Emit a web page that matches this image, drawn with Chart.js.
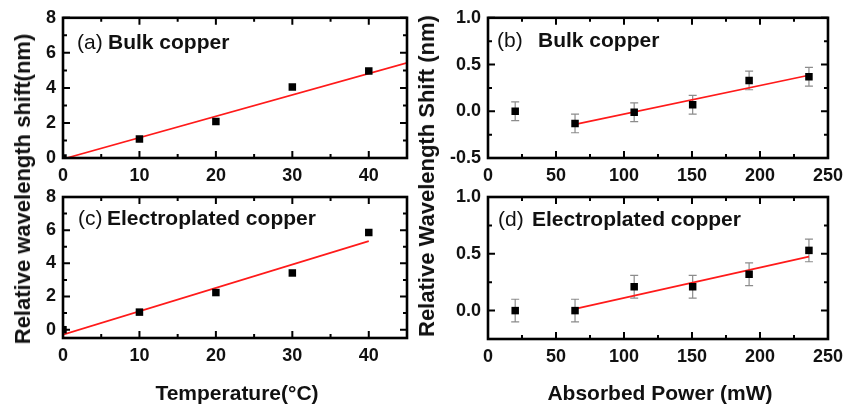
<!DOCTYPE html>
<html>
<head>
<meta charset="utf-8">
<script src="https://cdn.jsdelivr.net/npm/chart.js@4.4.1/dist/chart.umd.min.js"></script>
<style>
    body { margin: 0; background: #fff; width: 850px; height: 406px; position: relative; overflow: hidden;
           font-family: "Liberation Sans", Arial, sans-serif; color: #111; }
    canvas { position: absolute; left: 0; top: 0; }
    .title { position: absolute; font-weight: bold; white-space: nowrap; line-height: 1; }
    .ytitle { font-size: 22px; transform: translate(-50%, -50%) rotate(-90deg); }
    .xtitle { font-size: 21px; transform: translate(-50%, -50%); }
</style>
</head>
<body>
<canvas id="chartA" width="850" height="406"></canvas>
<canvas id="chartB" width="850" height="406"></canvas>
<canvas id="chartC" width="850" height="406"></canvas>
<canvas id="chartD" width="850" height="406"></canvas>
<div class="title ytitle" style="left:23px; top:189px">Relative wavelength shift(nm)</div>
<div class="title ytitle" style="left:427px; top:176px">Relative Wavelength Shift (nm)</div>
<div class="title xtitle" style="left:237px; top:392px">Temperature(°C)</div>
<div class="title xtitle" style="left:660px; top:392px">Absorbed Power (mW)</div>
<script>
// temperature panels (a), (c)
const tempX       = [0, 10, 20, 30, 40]
const bulkTempY   = [0, 1.08, 2.08, 4.05, 4.97]
const platedTempY = [0, 1.06, 2.24, 3.42, 5.86]
const bulkTempFit   = [[0, -0.06], [45, 5.43]]
const platedTempFit = [[0, -0.3], [40, 5.34]]

// power panels (b), (d)
const powerX       = [20, 64, 107.5, 150.5, 192, 236]
const bulkPowerY   = [0.0, -0.13, -0.01, 0.07, 0.33, 0.37]
const platedPowerY = [0.0, 0.0, 0.21, 0.21, 0.32, 0.53]
const powerErr     = [0.1, 0.1, 0.1, 0.1, 0.1, 0.1]
const bulkPowerFit   = [[64, -0.14], [236, 0.385]]
const platedPowerFit = [[64, 0.015], [236, 0.475]]

// ticks
const tempTicks  = [0, 10, 20, 30, 40]
const tempMinor  = [5, 15, 25, 35]
const shiftTicks = [0, 2, 4, 6, 8]
const shiftMinor = [1, 3, 5, 7]
const powerTicks = [0, 50, 100, 150, 200, 250]
const powerMinor = [25, 75, 125, 175, 225]
const bulkPowerTicks   = [-0.5, 0, 0.5, 1.0]
const bulkPowerMinor   = [-0.25, 0.25, 0.75]
const platedPowerTicks = [0, 0.5, 1.0]
const platedPowerMinor = [0.25, 0.75]

const FONT = '"Liberation Sans", Arial, sans-serif'
const Y_AXIS_W = 60
const X_AXIS_H = 40

function framePlugin(p) {
    return {
        id: 'frame',
        beforeDatasetsDraw(chart) {
            if (!p.err) return
            const ctx = chart.ctx
            const xs = chart.scales.x, ys = chart.scales.y
            ctx.save()
            ctx.strokeStyle = '#8c8c8c'
            ctx.lineWidth = 1.2
            p.xv.forEach((xv, i) => {
                const px = xs.getPixelForValue(xv)
                const top = ys.getPixelForValue(p.yv[i] + p.err[i])
                const bot = ys.getPixelForValue(p.yv[i] - p.err[i])
                ctx.beginPath()
                ctx.moveTo(px, top); ctx.lineTo(px, bot)
                ctx.moveTo(px - 4, top); ctx.lineTo(px + 4, top)
                ctx.moveTo(px - 4, bot); ctx.lineTo(px + 4, bot)
                ctx.stroke()
            })
            ctx.restore()
        },
        afterDatasetsDraw(chart) {
            const ctx = chart.ctx
            const a = chart.chartArea
            const xs = chart.scales.x, ys = chart.scales.y
            ctx.save()
            ctx.strokeStyle = '#000'
            ctx.lineWidth = 2
            const tick = (vals, len, isX) => {
                for (const v of vals) {
                    ctx.beginPath()
                    if (isX) {
                        const px = xs.getPixelForValue(v)
                        ctx.moveTo(px, a.bottom); ctx.lineTo(px, a.bottom - len)
                        ctx.moveTo(px, a.top); ctx.lineTo(px, a.top + len)
                    } else {
                        const py = ys.getPixelForValue(v)
                        ctx.moveTo(a.left, py); ctx.lineTo(a.left + len, py)
                        ctx.moveTo(a.right, py); ctx.lineTo(a.right - len, py)
                    }
                    ctx.stroke()
                }
            }
            tick(p.xTicks, 7, true)
            tick(p.xMinor, 4, true)
            tick(p.yTicks, 7, false)
            tick(p.yMinor, 4, false)
            ctx.lineWidth = 2.6
            ctx.strokeRect(a.left, a.top, a.right - a.left, a.bottom - a.top)
            ctx.restore()
        },
        afterDraw(chart) {
            const ctx = chart.ctx
            const a = chart.chartArea
            ctx.save()
            ctx.fillStyle = '#111'
            ctx.textBaseline = 'alphabetic'
            ctx.font = `21px ${FONT}`
            ctx.fillText(p.tag, a.left + p.tagDx, a.top + p.dy)
            ctx.font = `bold 21px ${FONT}`
            ctx.fillText(p.name, a.left + p.nameDx, a.top + p.dy)
            ctx.restore()
        }
    }
}

function makePanel(id, box, p) {
    const pts = p.xv.map((x, i) => ({x: x, y: p.yv[i]}))
    const fit = p.fit.map(([x, y]) => ({x: x, y: y}))
    const tickFont = {family: FONT, size: 18, weight: 'bold'}
    return new Chart(document.getElementById(id), {
        type: 'scatter',
        data: {
            datasets: [
                {
                    type: 'scatter',
                    data: pts,
                    pointStyle: 'rect',
                    pointRadius: 5.3,
                    backgroundColor: '#000',
                    borderColor: '#000',
                    borderWidth: 0,
                    order: 1
                },
                {
                    type: 'line',
                    data: fit,
                    showLine: true,
                    borderColor: '#ff1a1a',
                    borderWidth: 1.6,
                    pointRadius: 0,
                    fill: false,
                    order: 2
                }
            ]
        },
        plugins: [framePlugin(p)],
        options: {
            responsive: false,
            animation: false,
            events: [],
            layout: {
                padding: {
                    left: box.left - Y_AXIS_W,
                    top: box.top,
                    right: 850 - box.right,
                    bottom: 406 - box.bottom - X_AXIS_H
                }
            },
            plugins: { legend: { display: false }, tooltip: { enabled: false } },
            scales: {
                x: {
                    type: 'linear',
                    min: p.xRange[0], max: p.xRange[1],
                    afterFit: s => { s.height = X_AXIS_H },
                    afterBuildTicks: s => { s.ticks = p.xTicks.map(v => ({value: v})) },
                    grid: { display: false, drawTicks: false },
                    border: { display: false },
                    ticks: { padding: 7, color: '#111', font: tickFont, maxRotation: 0, autoSkip: false }
                },
                y: {
                    type: 'linear',
                    min: p.yRange[0], max: p.yRange[1],
                    afterFit: s => { s.width = Y_AXIS_W },
                    afterBuildTicks: s => { s.ticks = p.yTicks.map(v => ({value: v})) },
                    grid: { display: false, drawTicks: false },
                    border: { display: false },
                    ticks: { padding: 7, color: '#111', font: tickFont, autoSkip: false, callback: p.fmt }
                }
            }
        }
    })
}

const intFmt = v => String(v)
const decFmt = v => v.toFixed(1)

makePanel('chartA', {left: 63, top: 16, right: 407, bottom: 158}, {
    xv: tempX, yv: bulkTempY, fit: bulkTempFit,
    xRange: [0, 45], yRange: [0, 8],
    xTicks: tempTicks, xMinor: tempMinor, yTicks: shiftTicks, yMinor: shiftMinor, fmt: intFmt,
    tag: '(a)', name: 'Bulk copper', tagDx: 14, nameDx: 45, dy: 31
})

makePanel('chartC', {left: 63, top: 197, right: 407, bottom: 338}, {
    xv: tempX, yv: platedTempY, fit: platedTempFit,
    xRange: [0, 45], yRange: [-0.5, 8],
    xTicks: tempTicks, xMinor: tempMinor, yTicks: shiftTicks, yMinor: shiftMinor, fmt: intFmt,
    tag: '(c)', name: 'Electroplated copper', tagDx: 15, nameDx: 44, dy: 28
})

makePanel('chartB', {left: 488, top: 15, right: 833, bottom: 158}, {
    xv: powerX, yv: bulkPowerY, err: powerErr, fit: bulkPowerFit,
    xRange: [0, 250], yRange: [-0.5, 1.0],
    xTicks: powerTicks, xMinor: powerMinor, yTicks: bulkPowerTicks, yMinor: bulkPowerMinor, fmt: decFmt,
    tag: '(b)', name: 'Bulk copper', tagDx: 9, nameDx: 50, dy: 29
})

makePanel('chartD', {left: 488, top: 197, right: 833, bottom: 339}, {
    xv: powerX, yv: platedPowerY, err: powerErr, fit: platedPowerFit,
    xRange: [0, 250], yRange: [-0.25, 1.0],
    xTicks: powerTicks, xMinor: powerMinor, yTicks: platedPowerTicks, yMinor: platedPowerMinor, fmt: decFmt,
    tag: '(d)', name: 'Electroplated copper', tagDx: 10, nameDx: 44, dy: 29
})
</script>
</body>
</html>
